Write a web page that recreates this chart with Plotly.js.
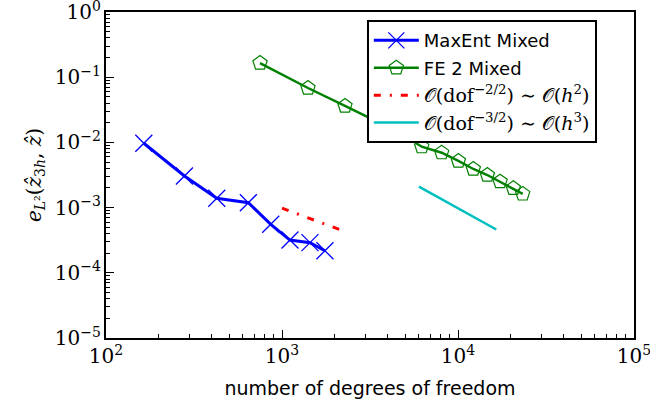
<!DOCTYPE html>
<html><head><meta charset="utf-8">
<script src="https://cdn.plot.ly/plotly-3.0.1.min.js"></script>
<style>body{margin:0;background:#fff}#c{width:650px;height:408px}</style>
</head><body><div id="c"></div>
<script>
const maxentDof = [164, 279, 426, 644, 863, 1110, 1442, 1754];
const maxentErr = [0.00969, 0.00305, 0.00139, 0.00119, 0.000554, 0.000318, 0.000290, 0.000218];
const fe2Dof = [750, 1405, 2280, 3400, 4650, 6220, 8075, 10050, 12220, 14680, 17340, 20620, 23320];
const fe2Err = [0.165, 0.0683, 0.0362, 0.0216, 0.0141, 0.00859, 0.00695, 0.00519, 0.00391, 0.00316, 0.00250, 0.00198, 0.00162];
const rate2Dof = [1000, 2120];
const rate2Err = [0.00098, 0.000462];
const rate3Dof = [6000, 16500];
const rate3Err = [0.00210, 0.000461];
// axis extents in decades (tick labels 10^n are drawn by the log axes)
const xDecades = [2, 5];
const yDecades = [-5, 0];

const serif = 'DejaVu Serif, Liberation Serif, serif';
const sans = 'DejaVu Sans, sans-serif';
const ser = s => '<span style="font-family:' + serif + ';font-size:19px">' + s + '</span>';

const traces = [
  {x: maxentDof, y: maxentErr, name: 'MaxEnt Mixed', mode: 'lines+markers', legendgroup: 'a',
   line: {color: '#0000ff', width: 3},
   marker: {symbol: 'x-thin-open', size: 17, color: '#0000ff', line: {color: '#0000ff', width: 1.3}}},
  {x: fe2Dof, y: fe2Err, name: 'FE 2 Mixed', mode: 'lines+markers', legendgroup: 'b',
   line: {color: '#008000', width: 2.5},
   marker: {symbol: 'pentagon-open', size: 15, color: '#008000', line: {color: '#008000', width: 1.2}}},
  {x: rate2Dof, y: rate2Err, name: ser('𝒪(dof<sup>−2/2</sup>) ∼ 𝒪(<i>h</i><sup>2</sup>)'), mode: 'lines', legendgroup: 'c',
   line: {color: '#ff0000', width: 3, dash: '7px,9px,2px,9px'}},
  {x: rate3Dof, y: rate3Err, name: ser('𝒪(dof<sup>−3/2</sup>) ∼ 𝒪(<i>h</i><sup>3</sup>)'), mode: 'lines', legendgroup: 'd',
   line: {color: '#00bfbf', width: 2.5}}
];

const axisCommon = {
  type: 'log', dtick: 1, exponentformat: 'power',
  showline: true, linecolor: '#000', linewidth: 2, mirror: true,
  gridcolor: 'rgba(0,0,0,0)',
  ticks: 'inside', ticklen: 8, tickcolor: '#000',
  minor: {ticks: 'inside', ticklen: 4, tickcolor: '#000'},
  ticklabeloverflow: 'allow',
  tickfont: {family: serif, size: 16, color: '#000'}
};

const layout = {
  width: 650, height: 408,
  margin: {l: 106, r: 16, t: 12, b: 70},
  paper_bgcolor: '#fff', plot_bgcolor: '#fff',
  showlegend: true,
  legend: {x: 0.494, y: 0.975, xanchor: 'left', yanchor: 'top', traceorder: 'grouped', tracegroupgap: 1,
    bgcolor: '#fff', bordercolor: '#000', borderwidth: 2,
    font: {family: sans, size: 18, color: '#000'}, itemwidth: 45},
  xaxis: Object.assign({}, axisCommon, {
    range: xDecades,
    title: {text: 'number of degrees of freedom', font: {family: sans, size: 19, color: '#000'}, standoff: 14}
  }),
  yaxis: Object.assign({}, axisCommon, {
    range: yDecades, labelalias: {'1': '10<sup>0</sup>'},
    title: {text: '<i>e</i><sub><i>L</i>²</sub>(<i>ẑ</i><sub>3<i>h</i></sub>, <i>ẑ</i>)', font: {family: serif, size: 20, color: '#000'}, standoff: 8}
  })
};

Plotly.newPlot('c', traces, layout, {displayModeBar: false});
</script></body></html>
